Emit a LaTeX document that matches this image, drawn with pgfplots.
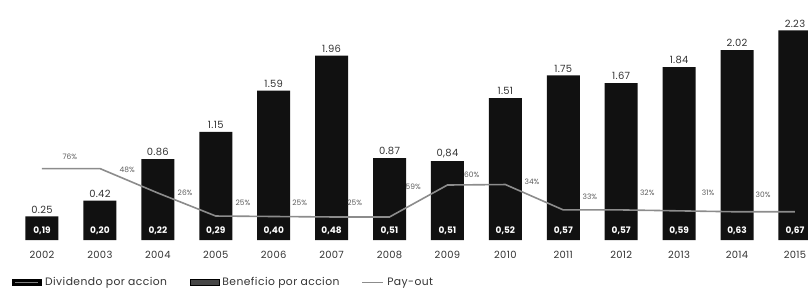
\documentclass[border=0pt]{standalone}
\usepackage{pgfplots}
\pgfplotsset{compat=1.18}
\usepackage{pgfplotstable}
\usepackage{fontspec}
\setmainfont{Poppins}
\newfontfamily\legfont[LetterSpace=4]{Poppins}
\newfontfamily\numfont[LetterSpace=3]{Poppins}
\definecolor{barc}{HTML}{111111}
\definecolor{linec}{HTML}{8C8C8C}
\definecolor{txt}{HTML}{333333}

\pgfplotstableread{
x y lab div zero
0 0.25 0.25 0,19 0
1 0.42 0.42 0,20 0
2 0.86 0.86 0,22 0
3 1.15 1.15 0,29 0
4 1.59 1.59 0,40 0
5 1.96 1.96 0,48 0
6 0.87 0.87 0,51 0
7 0.84 0,84 0,51 0
8 1.51 1.51 0,52 0
9 1.75 1.75 0,57 0
10 1.67 1.67 0,57 0
11 1.84 1.84 0,59 0
12 2.02 2.02 0,63 0
13 2.23 2.23 0,67 0
}\bars

\pgfplotstableread{
x p
0 0.76
1 0.76
2 0.50
3 0.255
4 0.25
5 0.245
6 0.245
7 0.585
8 0.59
9 0.32
10 0.32
11 0.31
12 0.30
13 0.30
}\payout

\pgfplotstableread{
x y lab
0.48 0.883 76\%
1.47 0.745 48\%
2.47 0.500 26\%
3.47 0.394 25\%
4.45 0.394 25\%
5.40 0.394 25\%
6.41 0.564 59\%
7.42 0.691 60\%
8.46 0.617 34\%
9.46 0.457 33\%
10.45 0.500 32\%
11.50 0.500 31\%
12.45 0.479 30\%
}\plabels

\begin{document}
\begin{tikzpicture}
\useasboundingbox (0,0) rectangle (808bp,293bp);
\begin{axis}[
  at={(0bp,53bp)}, anchor=south west,
  scale only axis, width=808bp, height=240bp,
  xmin=-0.725, xmax=13.225, ymin=0, ymax=2.553,
  clip=false,
  axis line style={draw=none},
  ytick=\empty,
  xtick={0,1,2,3,4,5,6,7,8,9,10,11,12,13},
  xticklabels={2002,2003,2004,2005,2006,2007,2008,2009,2010,2011,2012,2013,2014,2015},
  major tick length=0pt,
  tick style={draw=none},
  xticklabel style={anchor=center, yshift=-15bp, font=\numfont\fontsize{10}{12}\selectfont, text=txt},
  legend style={at={(0.0149,-0.175)}, anchor=west, draw=none, fill=none,
    font=\legfont\fontsize{10.8}{12}\selectfont, text=txt, inner sep=0pt,
    nodes={inner sep=1.5bp},
    /tikz/every odd column/.append style={column sep=2bp},
    /tikz/every even column/.append style={column sep=21bp}},
  legend columns=-1,
  legend cell align=left,
]
\addlegendimage{legend image code/.code={\draw[black, fill=black] (0bp,-3bp) rectangle (29bp,3bp); \draw[gray, line width=1bp] (3bp,0bp) -- (26bp,0bp);}}
\addlegendentry{Dividendo por accion}
\addlegendimage{legend image code/.code={\draw[black, fill=gray!55!black] (0bp,-3bp) rectangle (29bp,3bp);}}
\addlegendentry{Beneficio por accion}
\addlegendimage{legend image code/.code={\draw[linec, line width=0.8bp] (8bp,0bp) -- (29bp,0bp);}}
\addlegendentry{Pay-out}

\addplot[ybar, bar width=33bp, fill=barc, draw=none,
  nodes near coords, point meta=explicit symbolic,
  nodes near coords style={anchor=south, yshift=1.5bp, inner sep=1.5bp, text=txt, font=\numfont\fontsize{10}{12}\selectfont},
  forget plot] table[x=x, y=y, meta=lab] {\bars};

\addplot[linec, line width=1.6bp, mark=none, forget plot] table[x=x, y=p] {\payout};

\addplot[draw=none, mark=none, nodes near coords, point meta=explicit symbolic,
  nodes near coords style={anchor=center, yshift=9.5bp, inner sep=0pt, text=white, font=\bfseries\fontsize{9}{11}\selectfont},
  forget plot] table[x=x, y=zero, meta=div] {\bars};

\addplot[draw=none, mark=none, nodes near coords, point meta=explicit symbolic,
  nodes near coords style={anchor=center, inner sep=0pt, text=txt!80, font=\fontsize{7.5}{8}\selectfont},
  forget plot] table[x=x, y=y, meta=lab] {\plabels};
\end{axis}
\end{tikzpicture}
\end{document}
